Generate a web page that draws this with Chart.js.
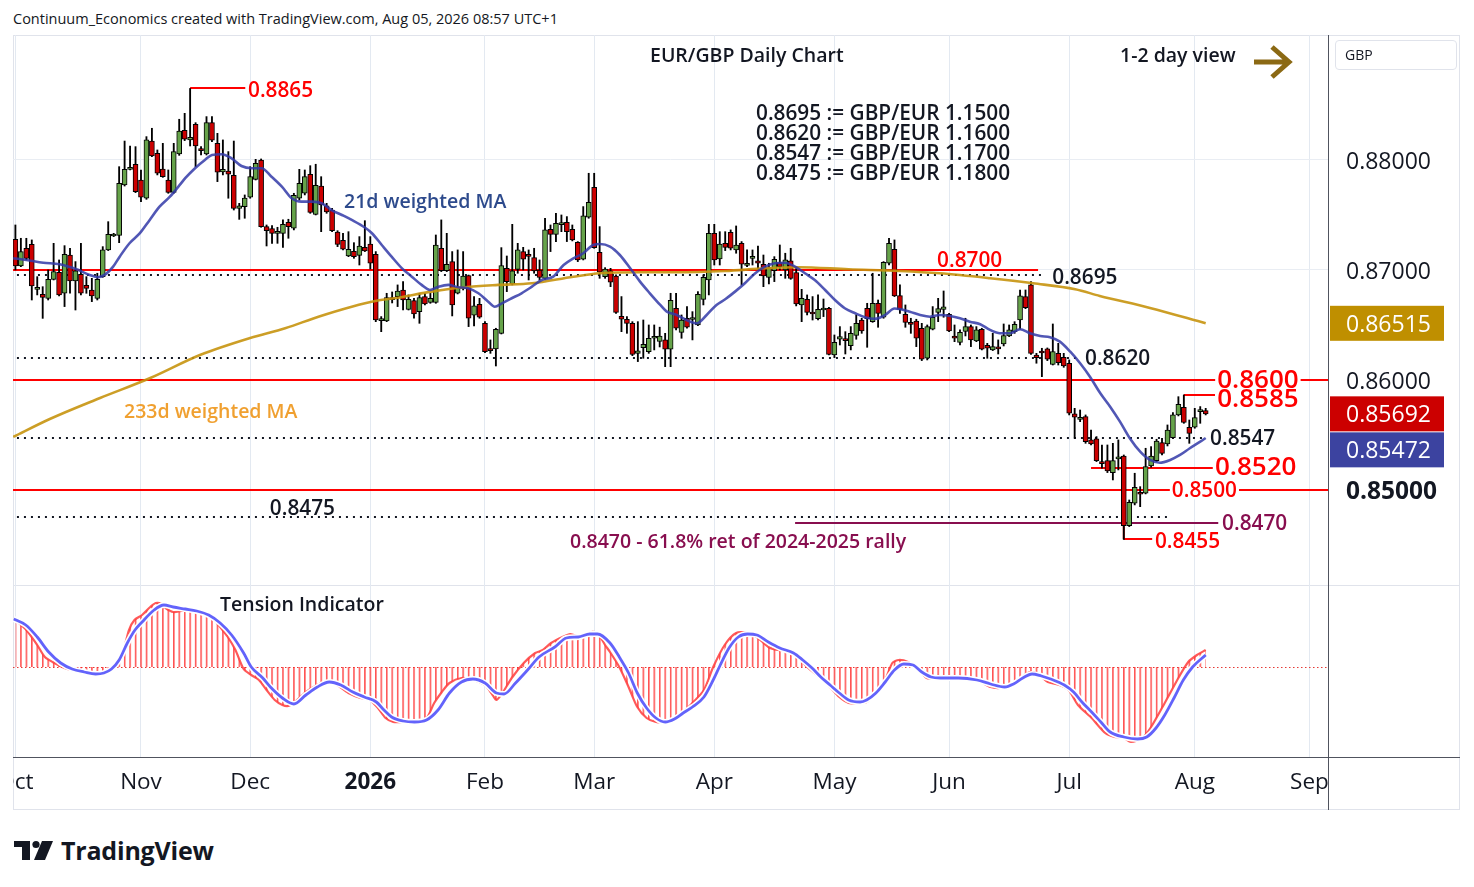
<!DOCTYPE html>
<html>
<head>
<meta charset="utf-8">
<title>EUR/GBP Daily Chart</title>
<script src="https://cdn.jsdelivr.net/npm/chart.js@4.4.1/dist/chart.umd.min.js"></script>
<style>
  body { margin: 0; width: 1474px; height: 887px; overflow: hidden; position: relative; background: #fff;
         font-family: "Open Sans", sans-serif; color: #131722; }
  .abs { position: absolute; white-space: nowrap; line-height: 1; transform: translateY(-50%); }
  .box { position: absolute; }
  .note { font-size: 20.8px; font-weight: 600; }
</style>
</head>
<body>
<div class="box" style="left:13px;top:35px;width:1447px;height:775px;border:1px solid #e0e3eb;box-sizing:border-box"></div>
<div class="box" style="left:13px;top:585px;width:1447px;height:1px;background:#e0e3eb"></div>
<div class="box" style="left:13px;top:757px;width:1447px;height:1px;background:#50535e"></div>
<div class="box" style="left:1328px;top:35px;width:1px;height:775px;background:#50535e"></div>

<div class="box" id="topWrap" style="left:13px;top:35px;width:1461px;height:550px"><canvas id="priceChart"></canvas></div>
<div class="box" id="bottomWrap" style="left:13px;top:585px;width:1461px;height:225px"><canvas id="tensionChart"></canvas></div>

<div class="abs" style="left:13px;top:19px;font-size:14.5px">Continuum_Economics created with TradingView.com, Aug 05, 2026 08:57 UTC+1</div>
<div class="abs note" style="left:650px;top:55px;font-size:19.5px">EUR/GBP Daily Chart</div>
<div class="abs note" style="left:1120px;top:55px;font-size:19.5px">1-2 day view</div>
<svg class="box" style="left:1248px;top:40px" width="50" height="44">
  <path d="M6 22 H40 M24 7 L41 22 L24 37" fill="none" stroke="#8b6914" stroke-width="5" stroke-linejoin="miter"/>
</svg>
<div class="abs note" style="left:756px;top:112px">0.8695 := GBP/EUR 1.1500</div>
<div class="abs note" style="left:756px;top:132px">0.8620 := GBP/EUR 1.1600</div>
<div class="abs note" style="left:756px;top:152px">0.8547 := GBP/EUR 1.1700</div>
<div class="abs note" style="left:756px;top:172px">0.8475 := GBP/EUR 1.1800</div>
<div class="abs note" style="left:344px;top:201px;font-size:19.5px;color:#2d4a8c">21d weighted MA</div>
<div class="abs note" style="left:124px;top:411px;font-size:19.5px;color:#f0a030">233d weighted MA</div>
<div class="abs note" style="left:570px;top:541px;font-size:19.5px;color:#880e4f">0.8470 - 61.8% ret of 2024-2025 rally</div>
<div class="abs note" style="left:220px;top:604px;font-size:19.5px">Tension Indicator</div>

<div class="box" style="left:1335px;top:40px;width:122px;height:30px;border:1px solid #e0e3eb;border-radius:4px;box-sizing:border-box"></div>
<div class="abs" style="left:1345px;top:55px;font-size:14px">GBP</div>

<svg class="box" style="left:12px;top:836px" width="44" height="28">
  <rect x="2" y="5" width="16" height="6" fill="#131722"/>
  <rect x="10" y="5" width="8" height="19" fill="#131722"/>
  <circle cx="24" cy="8.5" r="3.6" fill="#131722"/>
  <polygon points="30,5 41,5 33,24 22,24" fill="#131722"/>
</svg>
<div class="abs" style="left:61px;top:850px;font-size:25px;font-weight:700;letter-spacing:-0.2px">TradingView</div>

<script>
// ---- data (daily EUR/GBP, index 0 = 1 Oct 2025, weekdays, no bar on 25 Dec / 1 Jan)
const monthIdx = [0, 23, 43, 65, 86, 106, 128, 150, 171, 193, 216, 237];
const monthNames = ["Oct", "Nov", "Dec", "2026", "Feb", "Mar", "Apr", "May", "Jun", "Jul", "Aug", "Sep"];
const priceTicks = [0.85, 0.86, 0.87, 0.88];

const opens = [
  0.87279,0.87036,0.87197,0.87233,0.86824,0.86779,0.86742,0.86915,0.86979,0.86788,
  0.87136,0.86900,0.86961,0.86860,0.86818,0.86742,0.86939,0.87182,0.87309,0.87315,
  0.87772,0.87915,0.87961,0.87818,0.87652,0.88172,0.88060,0.87918,0.87818,0.87706,
  0.88054,0.88269,0.88182,0.88324,0.88091,0.88054,0.88339,0.88151,0.87891,0.87900,
  0.87861,0.87560,0.87576,0.87661,0.87824,0.88000,0.87394,0.87376,0.87333,0.87333,
  0.87433,0.87379,0.87652,0.87697,0.87870,0.87506,0.87763,0.87582,0.87545,0.87345,
  0.87270,0.87127,0.87170,0.87133,0.87206,0.87236,0.87142,0.86539,0.86536,0.86748,
  0.86758,0.86818,0.86642,0.86721,0.86621,0.86758,0.86706,0.86706,0.87197,0.86994,
  0.87076,0.86788,0.86833,0.86948,0.86588,0.86688,0.86515,0.86273,0.86282,0.86424,
  0.87015,0.86873,0.87006,0.87167,0.87130,0.87112,0.87000,0.86924,0.87370,0.87324,
  0.87412,0.87433,0.87370,0.87252,0.87097,0.87479,0.87752,0.87161,0.86939,0.86991,
  0.86945,0.86579,0.86552,0.86515,0.86242,0.86294,0.86258,0.86379,0.86350,0.86364,
  0.86279,0.86652,0.86433,0.86561,0.86550,0.86500,0.86733,0.86909,0.87333,0.87100,
  0.87242,0.87342,0.87182,0.87242,0.87042,0.87106,0.87082,0.87052,0.86933,0.86994,
  0.87067,0.87000,0.87082,0.86976,0.86682,0.86733,0.86606,0.86558,0.86636,0.86652,
  0.86227,0.86370,0.86364,0.86312,0.86406,0.86545,0.86652,0.86530,0.86697,0.86570,
  0.87061,0.87188,0.86767,0.86597,0.86509,0.86536,0.86470,0.86197,0.86461,0.86615,
  0.86642,0.86597,0.86400,0.86342,0.86442,0.86485,0.86355,0.86461,0.86315,0.86273,
  0.86285,0.86327,0.86400,0.86439,0.86545,0.86758,0.86864,0.86227,0.86248,0.86282,
  0.86142,0.86242,0.86206,0.86152,0.85691,0.85642,0.85667,0.85455,0.85464,0.85242,
  0.85267,0.85158,0.85282,0.85309,0.84676,0.84879,0.84979,0.84970,0.85218,0.85267,
  0.85430,0.85418,0.85476,0.85682,0.85752,0.85570,0.85570,0.85712,0.85721
];
const highs = [
  0.87409,0.87288,0.87288,0.87273,0.86939,0.86848,0.87000,0.87242,0.87091,0.87221,
  0.87197,0.87076,0.87242,0.86939,0.86924,0.86970,0.87212,0.87439,0.87333,0.87939,
  0.88172,0.88127,0.88121,0.87909,0.88212,0.88288,0.88091,0.88151,0.87909,0.88151,
  0.88370,0.88424,0.88650,0.88339,0.88121,0.88394,0.88394,0.88242,0.88182,0.88076,
  0.88172,0.87606,0.87682,0.87939,0.88006,0.88009,0.87409,0.87403,0.87388,0.87455,
  0.87461,0.87697,0.87915,0.87909,0.87948,0.87961,0.87848,0.87606,0.87560,0.87357,
  0.87333,0.87348,0.87248,0.87303,0.87448,0.87303,0.87167,0.86576,0.86788,0.86800,
  0.86864,0.86894,0.86773,0.86742,0.86788,0.86788,0.86788,0.87318,0.87455,0.87333,
  0.87167,0.87182,0.87167,0.86954,0.86758,0.86742,0.86530,0.86364,0.86470,0.87203,
  0.87127,0.87415,0.87242,0.87206,0.87182,0.87197,0.87091,0.87470,0.87409,0.87515,
  0.87500,0.87485,0.87409,0.87258,0.87576,0.87879,0.87879,0.87394,0.87021,0.87015,
  0.86955,0.86758,0.86576,0.86530,0.86530,0.86545,0.86500,0.86500,0.86480,0.86424,
  0.86788,0.86788,0.86591,0.86667,0.86621,0.86803,0.86955,0.87415,0.87415,0.87348,
  0.87348,0.87364,0.87400,0.87258,0.87182,0.87182,0.87218,0.87136,0.87061,0.87121,
  0.87227,0.87152,0.87197,0.87030,0.86824,0.86773,0.86758,0.86773,0.86736,0.86661,
  0.86409,0.86485,0.86439,0.86485,0.86591,0.86561,0.86697,0.86970,0.86727,0.87076,
  0.87288,0.87273,0.86864,0.86682,0.86561,0.86552,0.86515,0.86500,0.86667,0.86742,
  0.86809,0.86606,0.86500,0.86455,0.86561,0.86500,0.86485,0.86470,0.86333,0.86424,
  0.86364,0.86509,0.86500,0.86530,0.86818,0.86818,0.86894,0.86242,0.86288,0.86291,
  0.86509,0.86333,0.86242,0.86182,0.85742,0.85727,0.85682,0.85545,0.85485,0.85409,
  0.85409,0.85424,0.85455,0.85318,0.84909,0.85152,0.85030,0.85379,0.85394,0.85461,
  0.85470,0.85591,0.85703,0.85848,0.85864,0.85636,0.85742,0.85758,0.85742
];
const lows = [
  0.87000,0.87030,0.87091,0.86727,0.86773,0.86560,0.86727,0.86909,0.86764,0.86667,
  0.86788,0.86636,0.86773,0.86788,0.86712,0.86727,0.86933,0.87176,0.87303,0.87248,
  0.87763,0.87909,0.87703,0.87621,0.87642,0.88030,0.87864,0.87842,0.87697,0.87697,
  0.88042,0.88176,0.88127,0.87939,0.88045,0.88045,0.88166,0.87803,0.87864,0.87652,
  0.87545,0.87460,0.87470,0.87652,0.87818,0.87388,0.87218,0.87242,0.87242,0.87206,
  0.87288,0.87364,0.87636,0.87682,0.87515,0.87500,0.87348,0.87515,0.87348,0.87212,
  0.87182,0.87121,0.87106,0.87045,0.87167,0.87009,0.86530,0.86439,0.86530,0.86700,
  0.86667,0.86636,0.86636,0.86561,0.86515,0.86682,0.86697,0.86697,0.86985,0.86985,
  0.86582,0.86782,0.86818,0.86485,0.86491,0.86561,0.86248,0.86242,0.86127,0.86418,
  0.86803,0.86864,0.86970,0.87000,0.86909,0.86970,0.86909,0.86915,0.87167,0.87258,
  0.87348,0.87258,0.87264,0.87076,0.87091,0.87470,0.87197,0.86924,0.86924,0.86848,
  0.86606,0.86439,0.86424,0.86221,0.86167,0.86197,0.86242,0.86273,0.86300,0.86121,
  0.86121,0.86455,0.86379,0.86470,0.86364,0.86494,0.86682,0.86773,0.87045,0.87045,
  0.87176,0.87182,0.87152,0.86864,0.87030,0.87045,0.87006,0.86848,0.86873,0.86894,
  0.87000,0.86924,0.86915,0.86673,0.86530,0.86591,0.86545,0.86545,0.86576,0.86227,
  0.86203,0.86318,0.86236,0.86273,0.86370,0.86424,0.86297,0.86524,0.86479,0.86561,
  0.87045,0.86758,0.86606,0.86479,0.86424,0.86303,0.86176,0.86182,0.86455,0.86530,
  0.86570,0.86439,0.86348,0.86318,0.86400,0.86303,0.86348,0.86273,0.86197,0.86267,
  0.86236,0.86309,0.86394,0.86424,0.86461,0.86648,0.86233,0.86152,0.86030,0.86176,
  0.86136,0.86136,0.86115,0.85682,0.85470,0.85621,0.85424,0.85409,0.85258,0.85197,
  0.85158,0.85091,0.85182,0.84550,0.84667,0.84864,0.84848,0.84964,0.85206,0.85258,
  0.85318,0.85400,0.85470,0.85673,0.85606,0.85424,0.85561,0.85606,0.85682
];
const closes = [
  0.87036,0.87166,0.87106,0.86854,0.86842,0.86751,0.86915,0.86985,0.86773,0.87142,
  0.86900,0.86991,0.86788,0.86833,0.86764,0.86915,0.87182,0.87324,0.87318,0.87788,
  0.87915,0.87933,0.87712,0.87661,0.88182,0.88036,0.87879,0.87848,0.87706,0.88076,
  0.88263,0.88188,0.88206,0.88127,0.88085,0.88339,0.88179,0.87888,0.87915,0.87870,
  0.87560,0.87582,0.87654,0.87848,0.87970,0.87394,0.87357,0.87333,0.87342,0.87415,
  0.87394,0.87679,0.87788,0.87848,0.87524,0.87769,0.87591,0.87527,0.87357,0.87233,
  0.87188,0.87188,0.87121,0.87218,0.87173,0.87061,0.86545,0.86554,0.86748,0.86730,
  0.86809,0.86727,0.86733,0.86600,0.86748,0.86691,0.86742,0.87227,0.86994,0.87052,
  0.86682,0.86842,0.86945,0.86561,0.86673,0.86570,0.86258,0.86267,0.86461,0.87039,
  0.86894,0.86991,0.87182,0.87097,0.87124,0.86991,0.86933,0.87364,0.87324,0.87424,
  0.87418,0.87348,0.87273,0.87091,0.87491,0.87615,0.87203,0.86979,0.87009,0.86888,
  0.86615,0.86552,0.86515,0.86233,0.86264,0.86324,0.86379,0.86397,0.86400,0.86279,
  0.86724,0.86470,0.86545,0.86479,0.86560,0.86779,0.86933,0.87333,0.87091,0.87236,
  0.87206,0.87197,0.87227,0.87052,0.87061,0.87109,0.87061,0.86945,0.87021,0.87097,
  0.87030,0.87091,0.86924,0.86691,0.86742,0.86615,0.86600,0.86642,0.86642,0.86233,
  0.86342,0.86394,0.86358,0.86424,0.86515,0.86445,0.86558,0.86697,0.86606,0.87070,
  0.87242,0.86764,0.86642,0.86524,0.86506,0.86379,0.86188,0.86485,0.86570,0.86648,
  0.86664,0.86445,0.86379,0.86433,0.86485,0.86364,0.86455,0.86279,0.86288,0.86303,
  0.86282,0.86403,0.86455,0.86506,0.86764,0.86658,0.86242,0.86203,0.86245,0.86188,
  0.86258,0.86158,0.86127,0.85697,0.85661,0.85642,0.85439,0.85418,0.85267,0.85239,
  0.85173,0.85267,0.85288,0.84676,0.84888,0.85024,0.84961,0.85212,0.85309,0.85445,
  0.85333,0.85545,0.85682,0.85779,0.85615,0.85515,0.85658,0.85721,0.85692
];

// moving averages as [bar index, value]
const wma21 = [
  [-0.4,0.87106],[2,0.87091],[5.1,0.87066],[8.1,0.87052],[11.2,0.87006],[13.6,0.86955],[15.1,0.86934],
  [16.6,0.86964],[17.9,0.87030],[19.1,0.87121],[20.9,0.87243],[22.8,0.87334],[24.6,0.87455],[26.4,0.87575],
  [28.3,0.87666],[30.1,0.87773],[31.1,0.87834],[32.9,0.87925],[34.7,0.88000],[36.0,0.88045],[37.8,0.88052],
  [39.6,0.88015],[41.4,0.87945],[43.3,0.87925],[45.1,0.87925],[46.9,0.87848],[48.8,0.87757],[50.6,0.87652],
  [52.4,0.87621],[54.3,0.87621],[56.1,0.87606],[57.9,0.87545],[59.8,0.87500],[61.6,0.87455],[64.0,0.87386],
  [65.3,0.87334],[67.1,0.87227],[68.9,0.87121],[70.8,0.87015],[72.6,0.86939],[74.4,0.86864],[75.9,0.86818],
  [77.5,0.86848],[79.3,0.86864],[81.1,0.86843],[82.9,0.86834],[84.8,0.86788],[86.6,0.86712],[87.8,0.86666],
  [89.1,0.86697],[90.9,0.86743],[92.7,0.86788],[94.6,0.86848],[96.4,0.86909],[98.5,0.86939],[100.4,0.87045],
  [102.2,0.87106],[104.0,0.87152],[105.8,0.87227],[107.1,0.87236],[108.9,0.87212],[110.7,0.87136],
  [112.6,0.87015],[114.4,0.86894],[116.2,0.86788],[118.1,0.86682],[119.3,0.86621],[121.1,0.86591],
  [122.9,0.86545],[124.8,0.86515],[126.6,0.86591],[128.4,0.86682],[130.0,0.86734],[131.8,0.86803],
  [133.6,0.86879],[135.5,0.86970],[137.3,0.87030],[139.1,0.87061],[140.9,0.87066],[142.8,0.87030],
  [144.6,0.86970],[146.4,0.86909],[148.3,0.86818],[150.1,0.86727],[151.9,0.86652],[153.8,0.86606],
  [155.6,0.86570],[157.4,0.86555],[159.3,0.86591],[161.0,0.86650],[163.8,0.86621],[165.7,0.86591],
  [167.5,0.86575],[169.3,0.86591],[171.2,0.86582],[173.0,0.86561],[174.8,0.86530],[176.7,0.86506],
  [178.5,0.86455],[180.3,0.86425],[182.2,0.86425],[184.0,0.86461],[185.8,0.86425],[187.7,0.86400],
  [189.5,0.86388],[191.3,0.86348],[193.2,0.86257],[195.0,0.86152],[196.8,0.86030],[198.7,0.85879],
  [200.5,0.85757],[202.3,0.85621],[204.1,0.85470],[206.0,0.85348],[207.8,0.85273],[209.6,0.85248],
  [211.5,0.85273],[213.3,0.85318],[215.1,0.85379],[217.0,0.85439],[218,0.85472]
];
const wma233 = [
  [-0.4,0.85482],[6.3,0.85645],[15.5,0.85836],[24.7,0.86018],[33.8,0.86227],[43.0,0.86382],[49.4,0.86470],
  [55.5,0.86575],[61.6,0.86666],[65.9,0.86718],[70.1,0.86748],[76.2,0.86803],[82.3,0.86843],[88.4,0.86864],
  [94.6,0.86879],[102.2,0.86939],[107.1,0.86970],[114.4,0.86979],[120.5,0.86979],[130.0,0.86991],
  [137.3,0.87015],[143.4,0.87025],[152.6,0.87006],[162.0,0.86991],[169.3,0.86970],[178.5,0.86925],
  [186.4,0.86879],[194.1,0.86825],[198.6,0.86764],[207.8,0.86655],[218,0.86515]
];

// tension indicator, [bar index, value]
const tensionFast = [
  [0,47],[2,37],[4,22],[5.4,10],[6.8,5],[9,-1],[11.1,-4],[13.3,-6],[15,-7],[16.8,-5],[18.3,2],[19.7,15],
  [20.8,37],[21.8,47],[23.2,52],[24.7,60],[25.7,64],[26.8,63],[27.5,59],[28.9,55],[30.4,56],[31.8,59],
  [33.2,56],[34.7,53],[36.1,49],[37.5,40],[38.9,30],[40.3,17],[41.8,-2],[43.2,-8],[44.6,-13],[46,-23],
  [47.5,-33],[48.9,-38],[50,-39],[51,-36],[53.2,-25],[55.3,-18],[57.1,-14],[58.9,-18],[61,-26],[63.2,-31],
  [64.9,-33],[66.4,-41],[67.8,-51],[69.2,-55],[71,-55],[73.1,-55],[75.3,-51],[76.7,-36],[78.1,-25],
  [79.5,-16],[81.7,-11],[83.8,-13],[86,-18],[87.4,-28],[88.1,-33],[89.2,-26],[90.9,-11],[93.1,4],[95.2,14],
  [96.6,17],[98.1,24],[100.2,30],[101.6,33],[103.8,30],[105.5,35],[106.6,34],[108,22],[108.9,15],[110.6,0],
  [112.3,-20],[113.9,-40],[115.6,-51],[117.3,-55],[119,-55],[120.7,-51],[122.3,-45],[124,-36],[126.1,-23],
  [127.8,0],[129.9,22],[132,34],[134.1,34],[135.8,30],[137.9,20],[139.6,17],[141.7,16],[143.4,10],[145,0],
  [147.5,-11],[149.2,-20],[150.9,-30],[152.6,-36],[154.3,-36],[155.9,-35],[157.6,-26],[159.3,-13],
  [160.6,4],[161.8,7],[163.5,5],[165.2,-1],[166.9,-11],[168.6,-11],[171.1,-10],[173.6,-12],[176.1,-13],
  [178.6,-20],[180.3,-21],[182,-19],[183.7,-13],[185.8,-5],[187.5,-8],[189.1,-15],[191.2,-18],[192.9,-23],
  [194.6,-38],[197.1,-51],[199.6,-66],[201.3,-70],[203,-71],[204.3,-75],[206.4,-71],[208,-60],[210.5,-36],
  [213.1,-10],[214.8,5],[216.4,12],[218,17]
];
const tensionSlow = [
  [-0.3,48],[1.9,42],[4,30],[6.1,15],[8.3,4],[10.4,-2],[12.6,-5],[14.7,-7],[16.2,-6],[17.6,-2],[19,7],
  [20.5,24],[21.9,37],[23.2,45],[25.4,57],[27.2,62],[28.9,60],[31.1,58],[33.2,56],[35.4,52],[37.5,44],
  [39.6,32],[41.8,14],[43.2,0],[45.3,-11],[46.7,-20],[48.9,-31],[51,-37],[53.2,-28],[55.3,-20],[57.5,-15],
  [59.6,-18],[61.8,-25],[63.9,-30],[66.1,-35],[67.5,-43],[68.9,-50],[71,-54],[73.1,-55],[75.3,-53],
  [77.4,-43],[79.5,-26],[81.7,-15],[83.8,-12],[86,-16],[88.1,-26],[89.5,-27],[91.6,-16],[93.8,-3],
  [95.9,10],[98.8,20],[100.9,29],[103.1,30],[105.2,33],[106.6,33],[108.9,24],[110.6,10],[112.3,-6],
  [113.9,-26],[115.6,-41],[117.3,-51],[119,-55],[120.7,-52],[122.3,-46],[124,-40],[126.1,-30],[127.8,-13],
  [129.1,2],[130.7,19],[132.4,30],[134.1,33],[135.8,32],[137.9,25],[140,19],[142.5,14],[144.2,7],
  [145.9,-1],[147.5,-10],[149.2,-18],[150.9,-26],[152.6,-33],[154.7,-35],[155.9,-33],[157.6,-26],
  [159.3,-15],[161,-3],[162.7,3],[164.4,2],[166,-5],[167.7,-10],[169.4,-11],[172.7,-11],[176.1,-13],
  [178.6,-17],[181.2,-20],[182.8,-17],[184.5,-11],[186.2,-7],[187.9,-9],[189.6,-12],[192.1,-18],
  [193.8,-25],[195.5,-36],[197.1,-45],[198.8,-55],[200.5,-65],[203,-70],[205.5,-72],[207.2,-70],
  [208.9,-61],[210.5,-48],[212.2,-31],[213.9,-13],[215.6,0],[218,12]
];

// ---- annotation layout (price levels drawn on the chart)
const RED = "#ff0000", INK = "#131722", PLUM = "#880e4f";
const levelLines = [
  { price: 0.8865, from: 32, to: 42.1, color: RED },
  { price: 0.8700, from: -1, to: 187.3, color: RED },
  { price: 0.8695, from: -1, to: 188.6, color: INK, dash: [2, 5] },
  { price: 0.8620, from: -1, to: 195, color: INK, dash: [2, 5] },
  { price: 0.8600, from: -1, to: 242, color: RED },
  { price: 0.8586, from: 214, to: 219.7, color: RED },
  { price: 0.8547, from: -1, to: 217.9, color: INK, dash: [2, 5] },
  { price: 0.8520, from: 197, to: 219.3, color: RED },
  { price: 0.8500, from: -1, to: 242, color: RED },
  { price: 0.8475, from: -1, to: 210.9, color: INK, dash: [2, 5] },
  { price: 0.8470, from: 142.8, to: 220.3, color: PLUM },
  { price: 0.8455, from: 203, to: 208.2, color: RED }
];
const levelLabels = [
  { text: "0.8865", at: 42.6, price: 0.88636, color: RED, size: 20.8 },
  { text: "0.8700", at: 168.8, price: 0.87091, color: RED, size: 20.8 },
  { text: "0.8695", at: 189.9, price: 0.86936, color: INK, size: 20.8 },
  { text: "0.8620", at: 195.9, price: 0.86200, color: INK, size: 20.8 },
  { text: "0.8600", at: 220.1, price: 0.86000, color: RED, size: 26, bg: true },
  { text: "0.8585", at: 220.1, price: 0.85827, color: RED, size: 26 },
  { text: "0.8547", at: 218.8, price: 0.85473, color: INK, size: 20.8 },
  { text: "0.8520", at: 219.7, price: 0.85209, color: RED, size: 26 },
  { text: "0.8500", at: 211.8, price: 0.85000, color: RED, size: 20.8, bg: true },
  { text: "0.8475", at: 46.6, price: 0.84836, color: INK, size: 20.8 },
  { text: "0.8470", at: 221, price: 0.84700, color: PLUM, size: 20.8 },
  { text: "0.8455", at: 208.7, price: 0.84536, color: RED, size: 20.8 }
];

const X_MIN = -0.44, X_MAX = 240.4;
const FONT = '"Open Sans", sans-serif';
Chart.defaults.font.family = FONT;
Chart.defaults.color = INK;

function xAxisBase(showLabels) {
  return {
    type: "linear", min: X_MIN, max: X_MAX, offset: false,
    grid: { offset: false, color: "#e3e9f1", drawTicks: false },
    border: { display: false },
    afterBuildTicks: s => { s.ticks = monthIdx.map(v => ({ value: v })); },
    ticks: showLabels ? {
      autoSkip: false, maxRotation: 0, minRotation: 0, padding: 12, color: INK,
      font: c => ({ family: FONT, size: 22.5, weight: c.tick && c.tick.value === 65 ? "bold" : "normal" }),
      callback: v => monthNames[monthIdx.indexOf(v)]
    } : { display: false },
    afterFit: s => { s.height = showLabels ? 53 : 0; s.paddingLeft = 0; s.paddingRight = 0; }
  };
}

const pricePlugin = {
  id: "priceLevels",
  beforeDatasetsDraw(chart) {
    const { ctx, chartArea: a, scales: { x, y } } = chart;
    ctx.save();
    ctx.beginPath(); ctx.rect(a.left, a.top, a.right - a.left, a.bottom - a.top); ctx.clip();
    levelLines.forEach(l => {
      const py = Math.round(y.getPixelForValue(l.price));
      ctx.strokeStyle = l.color; ctx.lineWidth = 2; ctx.setLineDash(l.dash || []);
      ctx.beginPath();
      ctx.moveTo(x.getPixelForValue(l.from), py); ctx.lineTo(x.getPixelForValue(l.to), py);
      ctx.stroke();
    });
    ctx.setLineDash([]);
    ctx.strokeStyle = RED; ctx.lineWidth = 2;
    ctx.beginPath();
    ctx.moveTo(x.getPixelForValue(203), y.getPixelForValue(0.8468));
    ctx.lineTo(x.getPixelForValue(203), Math.round(y.getPixelForValue(0.8455)));
    ctx.stroke();
    ctx.restore();
  },
  afterDatasetsDraw(chart) {
    const { ctx, chartArea: a, scales: { x, y } } = chart;
    ctx.save();
    ctx.textBaseline = "middle";
    levelLabels.forEach(l => {
      ctx.font = `600 ${l.size}px ${FONT}`;
      const px = x.getPixelForValue(l.at), py = y.getPixelForValue(l.price);
      if (l.bg) {
        const w = ctx.measureText(l.text).width;
        ctx.fillStyle = "#fff";
        ctx.fillRect(px - 2, py - l.size * 0.45, w + 4, l.size * 0.9);
      }
      ctx.fillStyle = l.color;
      ctx.fillText(l.text, px, py + 1);
    });
    // last-value tags on the price axis, pushed apart when they would overlap
    const tags = [
      { v: wma233[wma233.length - 1][1], bg: "#bf8f00" },
      { v: closes[closes.length - 1], bg: "#cc0000" },
      { v: wma21[wma21.length - 1][1], bg: "#3c43a0" }
    ].map(t => ({ ...t, py: y.getPixelForValue(t.v) })).sort((p, q) => p.py - q.py);
    for (let i = 1; i < tags.length; i++) {
      if (tags[i].py - tags[i - 1].py < 36) tags[i].py = tags[i - 1].py + 36;
    }
    ctx.font = `23px ${FONT}`;
    tags.forEach(t => {
      ctx.fillStyle = t.bg;
      ctx.fillRect(a.right + 2, t.py - 17.5, 114, 35);
      ctx.fillStyle = "#fff";
      ctx.fillText(t.v.toFixed(5), a.right + 18, t.py + 2);
    });
    ctx.restore();
  }
};

new Chart(document.getElementById("priceChart"), {
  type: "bar",
  data: {
    datasets: [
      {
        type: "line", label: "21d weighted MA", data: wma21.map(([x, y]) => ({ x, y })),
        borderColor: "rgba(50,58,168,0.85)", borderWidth: 2.6, pointRadius: 0,
        cubicInterpolationMode: "monotone", order: 0
      },
      {
        type: "line", label: "233d weighted MA", data: wma233.map(([x, y]) => ({ x, y })),
        borderColor: "rgba(198,148,14,0.9)", borderWidth: 2.6, pointRadius: 0,
        cubicInterpolationMode: "monotone", order: 0
      },
      {
        label: "body",
        data: opens.map((o, i) => ({ x: i, y: [Math.min(o, closes[i]), Math.max(o, closes[i])] })),
        backgroundColor: opens.map((o, i) => closes[i] >= o ? "#66a34a" : "#cc0000"),
        borderColor: "#000", borderWidth: 1, borderSkipped: false,
        barThickness: 5, minBarLength: 2, grouped: false, order: 1
      },
      {
        label: "wick",
        data: lows.map((l, i) => ({ x: i, y: [l, highs[i]] })),
        backgroundColor: "#000", barThickness: 1.2, grouped: false, order: 2
      }
    ]
  },
  options: {
    responsive: true, maintainAspectRatio: false, animation: false,
    layout: { padding: 0, autoPadding: false },
    plugins: { legend: { display: false }, tooltip: { enabled: false } },
    scales: {
      x: xAxisBase(false),
      y: {
        type: "linear", position: "right", min: 0.84136, max: 0.89136,
        grid: { color: "#e9edf3", drawTicks: false }, border: { display: false },
        afterBuildTicks: s => { s.ticks = priceTicks.map(v => ({ value: v })); },
        ticks: {
          padding: 18, color: INK, labelOffset: 2.5,
          font: c => (c.tick && c.tick.value === 0.85
            ? { family: FONT, size: 24.5, weight: "bold" }
            : { family: FONT, size: 23, weight: "normal" }),
          callback: v => v.toFixed(5)
        },
        afterFit: s => { s.width = 146; s.paddingTop = 0; s.paddingBottom = 0; }
      }
    }
  },
  plugins: [pricePlugin]
});

// striped histogram fill for the tension indicator
const stripe = document.createElement("canvas");
stripe.width = 6; stripe.height = 4;
const sctx = stripe.getContext("2d");
sctx.fillStyle = "rgba(255,40,40,0.8)";
sctx.fillRect(0, 0, 1.7, 4);
const stripePattern = sctx.createPattern(stripe, "repeat");
stripePattern.setTransform(new DOMMatrix().translate(2.4 - 0.75, 0).scale(5.46 / 6, 1));

const zeroLine = {
  id: "zeroLine",
  beforeDatasetsDraw(chart) {
    const { ctx, chartArea: a, scales: { y } } = chart;
    const py = Math.round(y.getPixelForValue(0)) + 0.5;
    ctx.save();
    ctx.strokeStyle = "#e53935"; ctx.lineWidth = 1; ctx.setLineDash([1.5, 2.5]);
    ctx.beginPath(); ctx.moveTo(a.left, py); ctx.lineTo(a.right, py); ctx.stroke();
    ctx.restore();
  }
};

new Chart(document.getElementById("tensionChart"), {
  type: "line",
  data: {
    datasets: [
      {
        label: "slow", data: tensionSlow.map(([x, y]) => ({ x, y })),
        borderColor: "rgba(72,72,250,0.85)", borderWidth: 2.8, pointRadius: 0,
        cubicInterpolationMode: "monotone", order: 0
      },
      {
        label: "halo", data: tensionSlow.map(([x, y]) => ({ x, y })),
        borderColor: "#ffffff", borderWidth: 6, pointRadius: 0,
        cubicInterpolationMode: "monotone", order: 1
      },
      {
        label: "fast", data: tensionFast.map(([x, y]) => ({ x, y })),
        borderColor: "rgba(255,60,60,0.85)", borderWidth: 2.2, pointRadius: 0, tension: 0.25,
        fill: { target: { value: 0 }, above: stripePattern, below: stripePattern }, order: 2
      }
    ]
  },
  options: {
    responsive: true, maintainAspectRatio: false, animation: false,
    layout: { padding: 0, autoPadding: false },
    plugins: { legend: { display: false }, tooltip: { enabled: false } },
    scales: {
      x: xAxisBase(true),
      y: {
        type: "linear", position: "right", min: -90, max: 82,
        grid: { display: false }, border: { display: false },
        ticks: { display: false },
        afterFit: s => { s.width = 146; s.paddingTop = 0; s.paddingBottom = 0; }
      }
    }
  },
  plugins: [zeroLine]
});
</script>
</body>
</html>
